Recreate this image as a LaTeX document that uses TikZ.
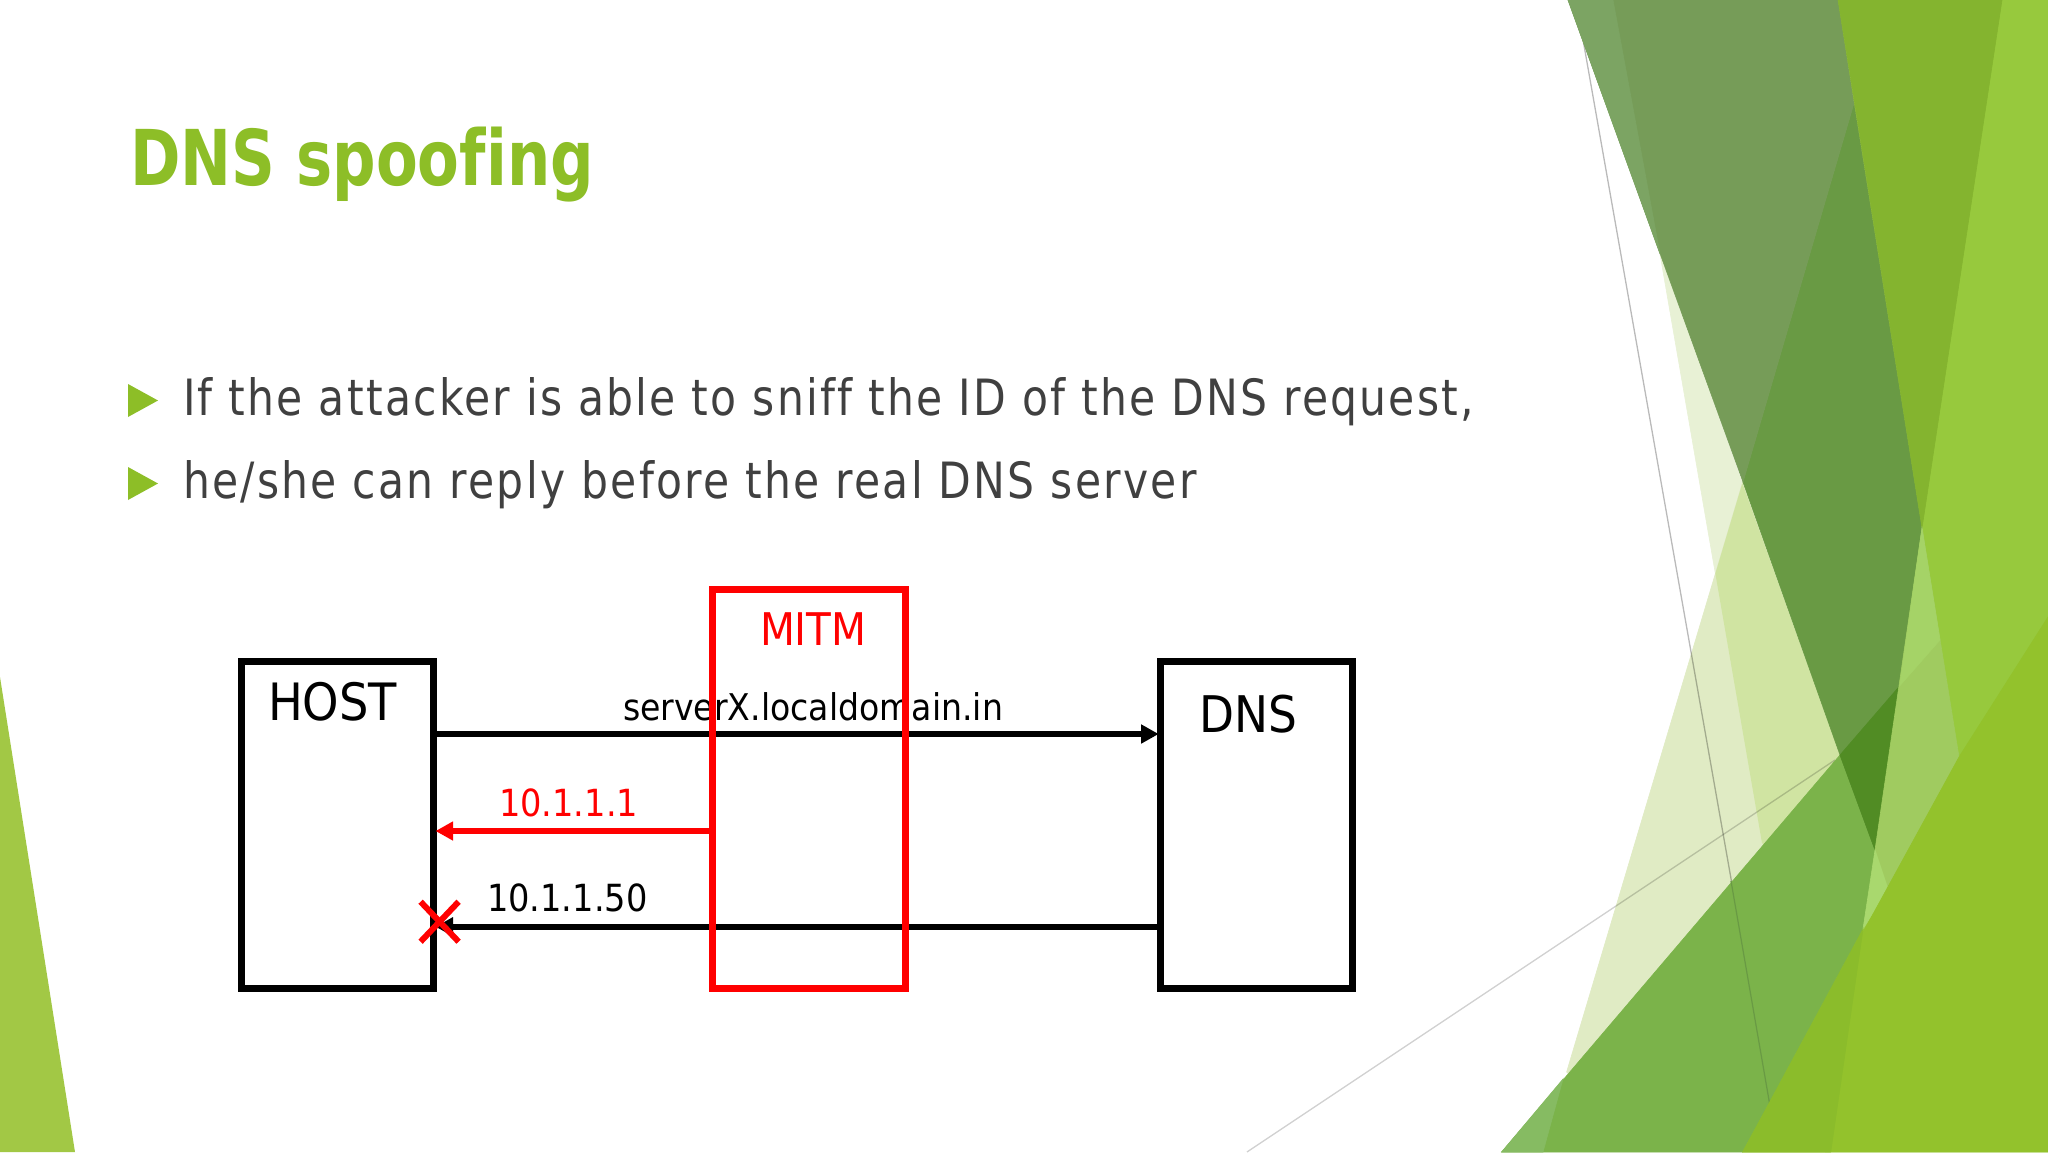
\documentclass[tikz,border=0pt]{standalone}
\usepackage{fontspec}
\usetikzlibrary{arrows.meta}
\setmainfont{DejaVu Sans}
\newfontfamily\titlef[FakeStretch=0.79,Ligatures=NoCommon]{DejaVu Sans}
\newfontfamily\bodyf[FakeStretch=0.85,LetterSpace=4.6,Ligatures=NoCommon]{DejaVu Sans}
\newfontfamily\diagf[FakeStretch=0.90]{DejaVu Sans}
\definecolor{titlegreen}{HTML}{8DBE27}
\definecolor{bodygrey}{HTML}{404040}
\definecolor{mitmred}{HTML}{FF0000}
\definecolor{leftg}{HTML}{A2C845}
\definecolor{paleA}{HTML}{E8F1D5}
\definecolor{paleB}{HTML}{E0EBC4}
\definecolor{paleC}{HTML}{D0E4A2}
\definecolor{greenbig}{HTML}{7BB34A}
\definecolor{greenstrip}{HTML}{86BB62}
\definecolor{darkup}{HTML}{769C58}
\definecolor{darkstrip}{HTML}{7CA463}
\definecolor{darklow}{HTML}{699A44}
\definecolor{darkest}{HTML}{518C24}
\definecolor{topband}{HTML}{84B42F}
\definecolor{basegreen}{HTML}{97C93D}
\definecolor{wedgeup}{HTML}{A5D367}
\definecolor{wedgelow}{HTML}{A0CB60}
\definecolor{wedgetip}{HTML}{A9D86E}
\definecolor{front}{HTML}{93C22C}
\definecolor{frontstrip}{HTML}{8BBC2B}
\tikzset{
  hostbox/.style={draw=black,line width=6.8pt,rectangle,minimum width=192.2pt,minimum height=327.2pt,inner sep=0pt},
  mitmbox/.style={draw=mitmred,line width=6.8pt,rectangle,minimum width=193.2pt,minimum height=399.2pt,inner sep=0pt},
  msg/.style={line width=5.8pt,shorten >=-1.5pt,-{Triangle[length=17.5pt,width=18pt]}},
  lab/.style={anchor=base west,inner sep=0pt,outer sep=0pt},
  hair/.style={line width=1.3pt,color=black,opacity=.27},
  hairlight/.style={line width=1.3pt,color=black,opacity=.18},
  piece/.style={fill=#1,draw=#1,line width=.6pt},
  crossmark/.style={line width=6pt,color=mitmred},
  bullet/.style={fill=titlegreen}
}
\begin{document}
\begin{tikzpicture}[x=1pt,y=-1pt]
\useasboundingbox (0,0) rectangle (2048,1152);
\fill[white] (0,0) rectangle (2048,1152);
% left wedge
\fill[leftg] (0,677) -- (75,1152) -- (0,1152) -- cycle;
% pale shapes, running on under the large green one
\path[piece=paleA] (1660,254) -- (1762,843) -- (1772,852) -- (1852,768) -- (1840,755) -- cycle;
\path[piece=paleB] (1742.7,482) -- (1566.6,1072) -- (1580,1084) -- (1852,768) -- (1840,755) -- cycle;
\begin{scope}
\clip (1660,254) -- (1762,843) -- (1772,852) -- (1852,768) -- (1840,755) -- cycle;
\fill[paleC] (1742.7,482) -- (1566.6,1072) -- (1580,1084) -- (1852,768) -- (1840,755) -- cycle;
\end{scope}
% thin lines
\draw[hair] (1576,0) -- (1733,890);
\draw[hairlight] (1247,1152) -- (1835,760);
% base behind everything at the right
\fill[basegreen] (1990,0) -- (2048,0) -- (2048,1152) -- (1825,1152) -- (1863,929) -- cycle;
% large green
\path[piece=greenbig] (1501.6,1152) -- (1840,755) -- (1875,850) -- (1863,929) -- (1742.7,1152) -- cycle;
\path[piece=greenstrip] (1501.6,1152) -- (1543,1152) -- (1563,1079) -- cycle;
\draw[line width=1.2pt,color=darklow] (1731,881) -- (1770,1106);
% dark band
\path[piece=darklow] (1743,482) -- (1854,103) -- (1922,528) -- (1875,850) -- (1840,755) -- cycle;
\path[piece=darkup] (1568,0) -- (1838,0) -- (1854,103) -- (1743,482) -- cycle;
\path[piece=darkstrip] (1568,0) -- (1613,0) -- (1660,254) -- cycle;
\path[piece=darkest] (1840,755) -- (1899.6,686) -- (1875,850) -- cycle;
\path[piece=topband] (1838,0) -- (2002,0) -- (1922,528) -- cycle;
% right greens
\path[piece=wedgelow] (1922,528) -- (1959,757) -- (1888,889) -- (1875,850) -- cycle;
\path[piece=wedgeup] (1922,528) -- (1940,640) -- (1899.6,686) -- cycle;
\path[piece=wedgetip] (1875,850) -- (1888,889) -- (1863,929) -- cycle;
\path[piece=front] (1742.7,1152) -- (1959,757) -- (2048,617) -- (2048,1152) -- cycle;
\path[piece=frontstrip] (1742.7,1152) -- (1863,929) -- (1830.7,1152) -- cycle;
% title
\node[lab,text=titlegreen] (title) at (130,185) {\titlef\bfseries\fontsize{77}{84}\selectfont DNS spoofing};
% bullets
\fill[bullet] (128,384) -- (158,400.5) -- (128,417) -- cycle;
\fill[bullet] (128,467) -- (158,483.5) -- (128,500) -- cycle;
\node[lab,text=bodygrey] (line1) at (183,415) {\bodyf\fontsize{50}{56}\selectfont If the attacker is able to sniff the ID of the DNS request,};
\node[lab,text=bodygrey] (line2) at (183,498) {\bodyf\fontsize{50}{56}\selectfont he/she can reply before the real DNS server};
% boxes
\node[hostbox] (host) at (337.5,825) {};
\node[hostbox] (dns) at (1256.7,825) {};
\coordinate (reqy) at (0,734);
\coordinate (fakey) at (0,831);
\coordinate (realy) at (0,926.7);
\coordinate (crossc) at (439.6,921.7);
% black messages
\draw[msg] (host.east |- reqy) -- (dns.west |- reqy);
\draw[msg] (dns.west |- realy) -- (host.east |- realy);
\node[lab] (reqlabel) at (623,720) {\diagf\fontsize{36.8}{40}\selectfont serverX.localdomain.in};
\node[lab] (reallabel) at (487,911.7) {\diagf\fontsize{37.4}{40}\selectfont 10.1.1.50};
% mitm box
\node[mitmbox] (mitm) at (809,788.8) {};
\draw[msg,color=mitmred] (mitm.west |- fakey) -- (host.east |- fakey);
\node[lab,text=mitmred] (mitmlabel) at (760,645) {\diagf\fontsize{45}{50}\selectfont MITM};
\node[lab,text=mitmred] (fakelabel) at (499,816) {\diagf\fontsize{37.4}{40}\selectfont 10.1.1.1};
\node[lab] (hostlabel) at (268,720) {\diagf\fontsize{51.5}{56}\selectfont HOST};
\node[lab] (dnslabel) at (1199,732.5) {\diagf\fontsize{50.5}{56}\selectfont DNS};
% cross
\draw[crossmark] ([shift={(-19,-20)}]crossc) -- ([shift={(19,20)}]crossc);
\draw[crossmark] ([shift={(19,-20)}]crossc) -- ([shift={(-19,20)}]crossc);
\end{tikzpicture}
\end{document}
